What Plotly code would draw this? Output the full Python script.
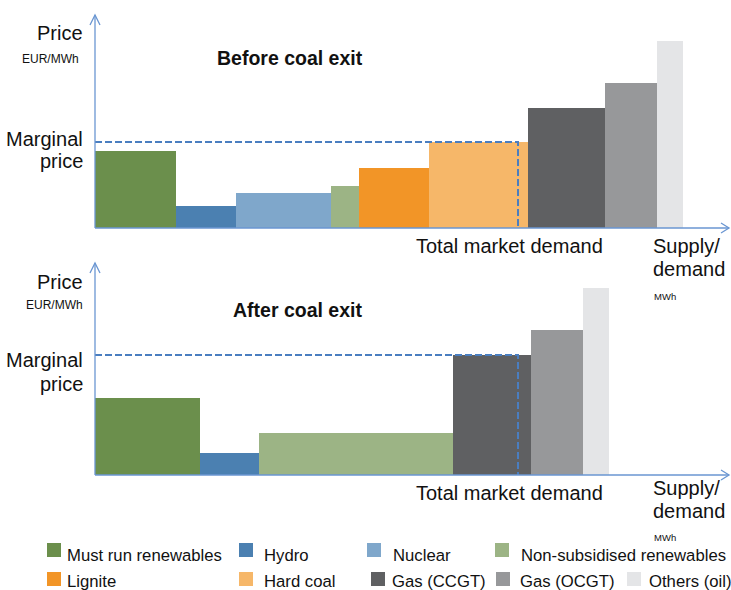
import numpy as np
import plotly.graph_objects as go

# Merit-order data (schematic units)
technologies = ["Must run renewables", "Hydro", "Nuclear", "Non-subsidised renewables",
                "Lignite", "Hard coal", "Gas (CCGT)", "Gas (OCGT)", "Others (oil)"]
price = [77, 22, 35, 42, 60, 86, 120, 145, 187]
capacity_before = [81, 60, 95, 28, 70, 99, 77, 52, 26]
capacity_after = [105, 59, 0, 194, 0, 0, 78, 52, 26]
total_demand = 423

panel_titles = ["Before coal exit", "After coal exit"]

# Styling
COLORS = {
    "Must run renewables": "#6B8F4C",
    "Hydro": "#4B80B1",
    "Nuclear": "#7FA7CB",
    "Non-subsidised renewables": "#9CB485",
    "Lignite": "#F29527",
    "Hard coal": "#F6B769",
    "Gas (CCGT)": "#5F6062",
    "Gas (OCGT)": "#97989A",
    "Others (oil)": "#E4E5E7",
}
AXIS_COLOR = "#6A96D2"
DASH_COLOR = "#4A7EC0"
FONT = "Liberation Sans, Arial, sans-serif"
TEXT = "#111111"
W, H = 731, 590


def px(x):
    return x / W


def py(y):
    return 1 - y / H


fig = go.Figure()

# (axis-bottom pixel, axis-top pixel) for each panel
panels = [(228, 15), (475, 263)]
x0_pix, x1_pix = 95, 731

shapes = []
annotations = []

for i, (cap, (ybot, ytop)) in enumerate(zip([capacity_before, capacity_after], panels)):
    xa = "x" if i == 0 else "x2"
    ya = "y" if i == 0 else "y2"
    cap = np.array(cap, dtype=float)
    keep = cap > 0
    techs = [t for t, k in zip(technologies, keep) if k]
    widths = cap[keep]
    heights = np.array(price, dtype=float)[keep]
    right = np.cumsum(widths)
    centers = right - widths / 2
    fig.add_trace(go.Bar(
        x=centers, y=heights, width=widths,
        marker=dict(color=[COLORS[t] for t in techs], line=dict(width=0)),
        xaxis=xa, yaxis=ya, showlegend=False, hoverinfo="skip",
    ))
    # marginal plant: first one whose cumulative capacity covers demand
    idx = int(np.argmax(right >= total_demand))
    marginal = heights[idx]
    fig.add_trace(go.Scatter(
        x=[0, total_demand, total_demand], y=[marginal, marginal, 0],
        mode="lines", line=dict(color=DASH_COLOR, width=2, dash="7px,3px"),
        xaxis=xa, yaxis=ya, showlegend=False, hoverinfo="skip",
    ))

    # axes with open arrow heads
    line = dict(color=AXIS_COLOR, width=1.3)
    shapes.append(dict(type="line", xref="paper", yref="paper",
                       x0=px(x0_pix), y0=py(ybot), x1=px(x0_pix), y1=py(ytop), line=line))
    shapes.append(dict(type="path", xref="paper", yref="paper",
                       path=f"M{px(x0_pix-5)},{py(ytop+10)} L{px(x0_pix)},{py(ytop)} L{px(x0_pix+5)},{py(ytop+10)}",
                       line=line))
    shapes.append(dict(type="line", xref="paper", yref="paper",
                       x0=px(x0_pix), y0=py(ybot), x1=px(729), y1=py(ybot), line=line))
    shapes.append(dict(type="path", xref="paper", yref="paper",
                       path=f"M{px(721)},{py(ybot-5)} L{px(729)},{py(ybot)} L{px(721)},{py(ybot+5)}",
                       line=line))


def label(text, x, y, size, xanchor="center", bold=False):
    annotations.append(dict(
        text=f"<b>{text}</b>" if bold else text, x=px(x), y=py(y),
        xref="paper", yref="paper", xanchor=xanchor, yanchor="middle",
        showarrow=False, font=dict(family=FONT, size=size, color=TEXT),
    ))


# top panel texts
label("Price", 85, 33, 20, "right")
label("EUR/MWh", 81, 59, 12, "right")
label(panel_titles[0], 290, 58, 19.5, "center", bold=True)
label("Marginal", 85, 139, 20, "right")
label("price", 85, 161, 20, "right")
label("Total market demand", 509, 246, 20, "center")
label("Supply/", 651, 246, 20, "left")
label("demand", 651, 269, 20, "left")
label("MWh", 652, 297, 9.5, "left")

# bottom panel texts
label("Price", 85, 282, 20, "right")
label("EUR/MWh", 85, 305, 12, "right")
label(panel_titles[1], 297, 310, 19.5, "center", bold=True)
label("Marginal", 85, 360, 20, "right")
label("price", 85, 384, 20, "right")
label("Total market demand", 509, 493, 20, "center")
label("Supply/", 651, 488, 20, "left")
label("demand", 651, 511, 20, "left")
label("MWh", 652, 537, 9.5, "left")

# legend: two rows
legend_rows = [
    (technologies[:4], [47, 239, 367, 495], [65, 262, 391, 519], 543, 555),
    (technologies[4:], [47, 239, 371, 496, 627], [65, 262, 390, 518, 647], 572, 581),
]
for names, sx, tx, top, mid in legend_rows:
    for name, s, t in zip(names, sx, tx):
        shapes.append(dict(type="rect", xref="paper", yref="paper",
                           x0=px(s), x1=px(s + 14), y0=py(top + 14), y1=py(top),
                           fillcolor=COLORS[name], line=dict(width=0)))
        label(name, t, mid, 16.7, "left")

hidden = dict(visible=False, showgrid=False, zeroline=False, fixedrange=True)
fig.update_layout(
    width=W, height=H, autosize=False,
    margin=dict(l=0, r=0, t=0, b=0),
    paper_bgcolor="white", plot_bgcolor="white",
    barmode="overlay", bargap=0,
    xaxis=dict(domain=[px(x0_pix), 1], range=[0, x1_pix - x0_pix], anchor="y", **hidden),
    yaxis=dict(domain=[py(228), py(15)], range=[0, 228 - 15], anchor="x", **hidden),
    xaxis2=dict(domain=[px(x0_pix), 1], range=[0, x1_pix - x0_pix], anchor="y2", **hidden),
    yaxis2=dict(domain=[py(475), py(263)], range=[0, 475 - 263], anchor="x2", **hidden),
    shapes=shapes, annotations=annotations,
    font=dict(family=FONT, color=TEXT),
)

fig.write_html("out.html")
